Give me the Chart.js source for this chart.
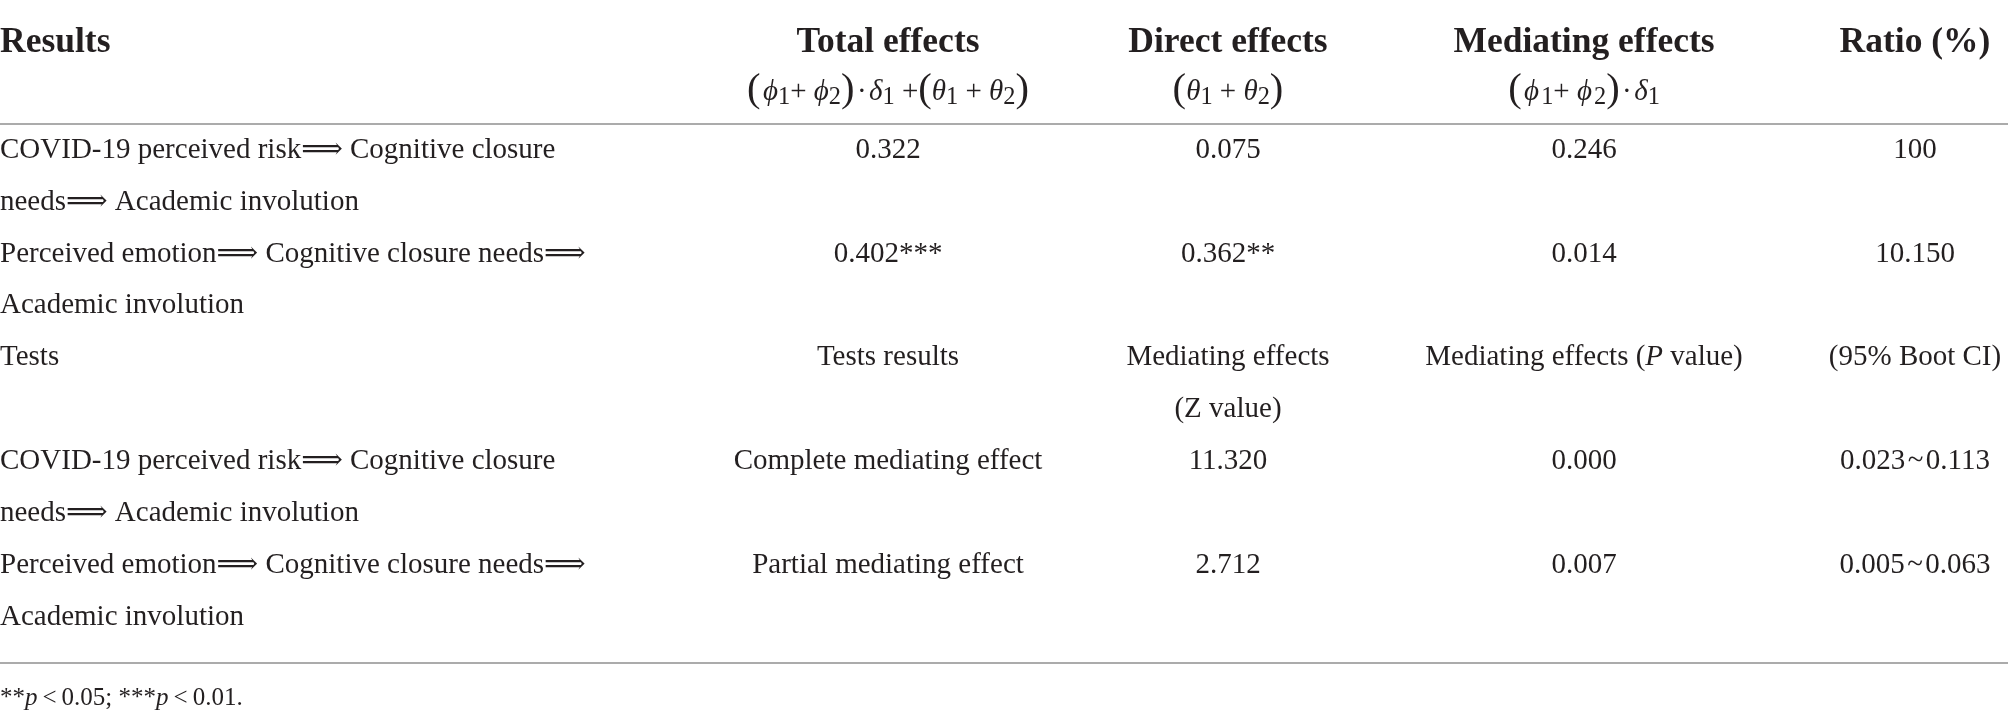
<!DOCTYPE html>
<html><head><meta charset="utf-8">
<script src="https://cdn.jsdelivr.net/npm/chart.js@4.4.1/dist/chart.umd.min.js"></script>
<style>html,body{margin:0;padding:0;background:#fff;}canvas{display:block;}</style>
</head><body>
<canvas id="c" width="2008" height="718"></canvas>
<script>
// ---------- data ----------
const headerLabels = ['Results', 'Total effects', 'Direct effects', 'Mediating effects', 'Ratio (%)'];
const pathwayLines = [
  ['COVID-19 perceived risk\u27F9 Cognitive closure', 'needs\u27F9 Academic involution'],
  ['Perceived emotion\u27F9 Cognitive closure needs\u27F9', 'Academic involution']
];
const totalEffects = [0.322, 0.402];
const totalSig = ['', '***'];
const directEffects = [0.075, 0.362];
const directSig = ['', '**'];
const mediatingEffects = [0.246, 0.014];
const ratioValues = ['100', '10.150'];
const testLabels = ['Tests', 'Tests results', 'Mediating effects', 'Mediating effects', '(95% Boot CI)'];
const testResults = ['Complete mediating effect', 'Partial mediating effect'];
const zValues = [11.320, 2.712];
const pValues = [0.000, 0.007];
const ciLower = [0.023, 0.005];
const ciUpper = [0.113, 0.063];
const lineLabels = ['L1', 'L2', 'L3', 'L4', 'L5', 'L6', 'L7', 'L8', 'L9', 'L10'];

// ---------- build cells ----------
const S = (t, o) => Object.assign({ t: t }, o || {});
const f3 = v => v.toFixed(3);
const cells = []; // {col, line, segs}
pathwayLines.forEach((lines, r) => {
  lines.forEach((ln, k) => cells.push({ col: 0, line: r * 2 + k, segs: [S(ln)] }));
});
for (let r = 0; r < 2; r++) {
  const L = r * 2;
  cells.push({ col: 1, line: L, segs: [S(f3(totalEffects[r]) + totalSig[r])] });
  cells.push({ col: 2, line: L, segs: [S(f3(directEffects[r]) + directSig[r])] });
  cells.push({ col: 3, line: L, segs: [S(f3(mediatingEffects[r]))] });
  cells.push({ col: 4, line: L, segs: [S(ratioValues[r])] });
}
cells.push({ col: 0, line: 4, segs: [S(testLabels[0])] });
cells.push({ col: 1, line: 4, segs: [S(testLabels[1])] });
cells.push({ col: 2, line: 4, segs: [S(testLabels[2])] });
cells.push({ col: 2, line: 5, segs: [S('(Z value)')] });
cells.push({ col: 3, line: 4, segs: [S(testLabels[3] + ' ('), S('P', { i: 1 }), S(' value)')] });
cells.push({ col: 4, line: 4, segs: [S(testLabels[4])] });
for (let r = 0; r < 2; r++) {
  const L = 6 + r * 2;
  pathwayLines[r].forEach((ln, k) => cells.push({ col: 0, line: L + k, segs: [S(ln)] }));
  cells.push({ col: 1, line: L, segs: [S(testResults[r])] });
  cells.push({ col: 2, line: L, segs: [S(f3(zValues[r]))] });
  cells.push({ col: 3, line: L, segs: [S(f3(pValues[r]))] });
  cells.push({ col: 4, line: L, segs: [S(f3(ciLower[r]) + '\u200A~\u200A' + f3(ciUpper[r]))] });
}

const BIG = { big: 1 };
const HS = '\u200A';
const formulas = [
  null,
  [S('(', BIG), S(HS), S('\u03D5', { i: 1 }), S('1', { sub: 1 }), S('+ '), S('\u03D5', { i: 1 }), S('2', { sub: 1 }), S(')', BIG), S(HS + '\u00B7' + HS),
   S('\u03B4', { i: 1 }), S('1', { sub: 1 }), S(' +'), S('(', BIG), S('\u03B8', { i: 1 }), S('1', { sub: 1 }), S(' + '), S('\u03B8', { i: 1 }), S('2', { sub: 1 }), S(')', BIG)],
  [S('(', BIG), S('\u03B8', { i: 1 }), S('1', { sub: 1 }), S(' + '), S('\u03B8', { i: 1 }), S('2', { sub: 1 }), S(')', BIG)],
  [S('(', BIG), S(HS), S('\u03D5', { i: 1 }), S(HS + '1', { sub: 1 }), S('+ '), S('\u03D5', { i: 1 }), S(HS + '2', { sub: 1 }), S(')', BIG), S(HS + '\u00B7' + HS), S('\u03B4', { i: 1 }), S('1', { sub: 1 })],
  null
];
const footnote = [S('**'), S('p', { i: 1 }), S('\u2009<\u20090.05; ***'), S('p', { i: 1 }), S('\u2009<\u20090.01.')];

// ---------- drawing helpers ----------
const FAMILY = "'Liberation Serif', 'DejaVu Serif', serif";
const INK = '#231f20';
function fontFor(seg, size, bold) {
  let s = size;
  if (seg.sub) s = size * 0.84;
  if (seg.big) s = size * 1.4;
  return (seg.i ? 'italic ' : '') + (bold ? 'bold ' : '') + s.toFixed(1) + 'px ' + FAMILY;
}
function drawRich(ctx, segs, x, yc, align, size, bold, bf) {
  let w = 0;
  const widths = segs.map(sg => { ctx.font = fontFor(sg, size, bold); const m = ctx.measureText(sg.t).width; w += m; return m; });
  let cx = align === 'left' ? x : align === 'right' ? x - w : x - w / 2;
  const base = yc + size * bf;
  segs.forEach((sg, k) => {
    ctx.font = fontFor(sg, size, bold);
    let by = base;
    if (sg.sub) by = base + size * 0.16;
    if (sg.big) by = base + size * 0.04;
    ctx.fillText(sg.t, cx, by);
    cx += widths[k];
  });
}

const tablePlugin = {
  id: 'tablePlugin',
  afterDraw(chart, args, opts) {
    const ctx = chart.ctx;
    const xs = chart.scales.x, ys = chart.scales.y;
    const area = chart.chartArea;
    const colX = opts.colAnchors.map(v => xs.getPixelForValue(v));
    const align = c => (c === 0 ? 'left' : 'center');
    ctx.save();
    ctx.fillStyle = INK;
    ctx.textBaseline = 'alphabetic';
    // header
    headerLabels.forEach((h, c) => drawRich(ctx, [S(h)], colX[c], area.top - opts.headerOffset, align(c), opts.headSize, true, 0.33));
    formulas.forEach((fm, c) => { if (fm) drawRich(ctx, fm, colX[c], area.top - opts.formulaOffset, 'center', opts.bodySize, false, 0.33); });
    // body
    cells.forEach(cell => {
      drawRich(ctx, cell.segs, colX[cell.col], ys.getPixelForValue(cell.line), align(cell.col), opts.bodySize, false, 0.27);
    });
    // footnote
    drawRich(ctx, footnote, colX[0], area.bottom + opts.footOffset, 'left', opts.footSize, false, 0.3);
    // rules
    ctx.strokeStyle = opts.ruleColor;
    ctx.lineWidth = 1.5;
    [area.top, area.bottom + opts.bottomRuleOffset].forEach(y => {
      ctx.beginPath(); ctx.moveTo(area.left, y); ctx.lineTo(area.right, y); ctx.stroke();
    });
    ctx.restore();
  }
};

new Chart(document.getElementById('c'), {
  type: 'scatter',
  data: { datasets: [] },
  options: {
    responsive: false,
    animation: false,
    devicePixelRatio: 1,
    layout: { padding: { top: 124, bottom: 75, left: 0, right: 0 } },
    plugins: {
      legend: { display: false },
      tooltip: { enabled: false },
      tablePlugin: {
        colAnchors: [0, 888, 1228, 1584, 1915],
        headerOffset: 84,
        formulaOffset: 34,
        bottomRuleOffset: 20,
        footOffset: 54,
        headSize: 35.5,
        bodySize: 29,
        footSize: 25,
        ruleColor: '#8f8f8f'
      }
    },
    scales: {
      x: { type: 'linear', min: 0, max: 2008, display: false },
      y: { type: 'category', labels: lineLabels, offset: true, display: false, grid: { display: false } }
    }
  },
  plugins: [tablePlugin]
});
</script>
</body></html>
